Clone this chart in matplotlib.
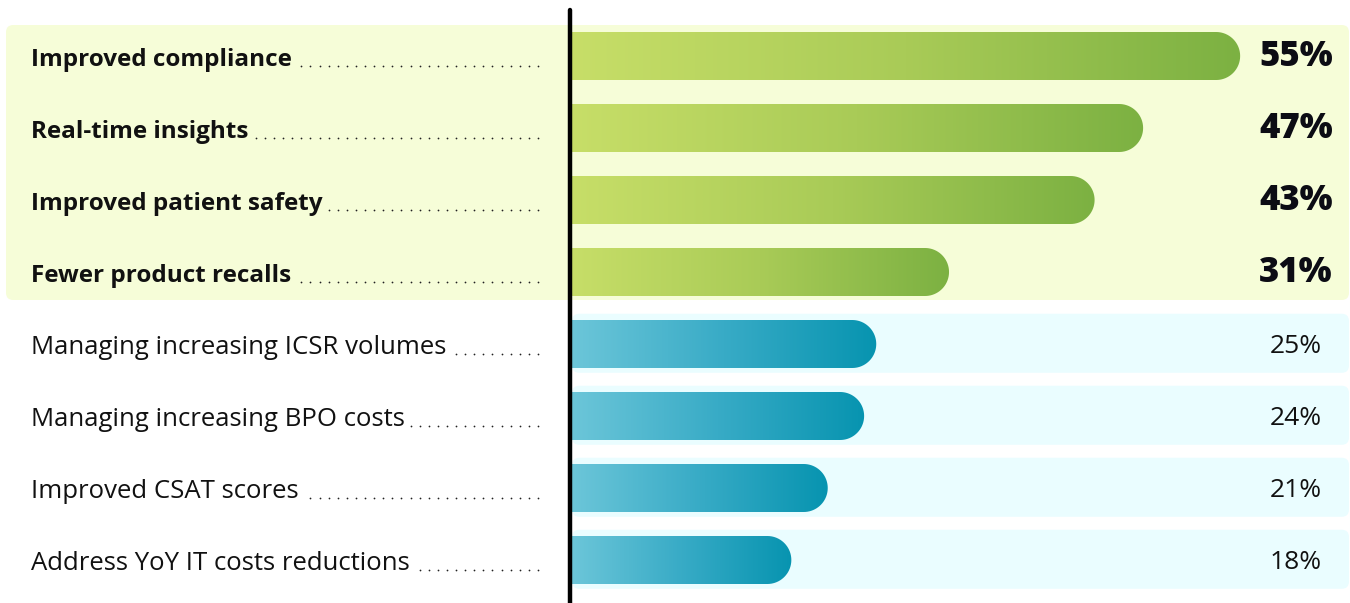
import numpy as np
import matplotlib
matplotlib.use("Agg")
import matplotlib.pyplot as plt
from matplotlib.patches import FancyBboxPatch, PathPatch
from matplotlib.path import Path
from matplotlib.colors import LinearSegmentedColormap

# data
labels = ["Improved compliance", "Real-time insights", "Improved patient safety",
          "Fewer product recalls", "Managing increasing ICSR volumes",
          "Managing increasing BPO costs", "Improved CSAT scores",
          "Address YoY IT costs reductions"]
values = [55, 47, 43, 31, 25, 24, 21, 18]
highlight = [True, True, True, True, False, False, False, False]

W, H = 1350, 603
x0_px = 573          # pixel where 0% sits
px_per_pct = 12.13
row0_px = 56
row_px = 72

fig = plt.figure(figsize=(W / 100, H / 100), dpi=100)
ax = fig.add_axes([0, 0, 1, 1])
ax.set_xlim(-x0_px / px_per_pct, (W - x0_px) / px_per_pct)
ax.set_ylim((H - row0_px) / row_px, -row0_px / row_px)
ax.axis("off")

def px2x(p):
    return (p - x0_px) / px_per_pct

def px2y(p):
    return (p - row0_px) / row_px

asp = px_per_pct / row_px  # to make rounded corners circular on screen

green = LinearSegmentedColormap.from_list("g", ["#c7de68", "#a9cb57", "#7cb142"])
blue = LinearSegmentedColormap.from_list("b", ["#6cc6d9", "#38abc6", "#0794b0"])
grad = np.linspace(0, 1, 256).reshape(1, -1)

# yellow panel behind the highlighted rows
ax.add_patch(FancyBboxPatch((px2x(6), px2y(25)), px2x(1349) - px2x(6), px2y(300) - px2y(25),
                            boxstyle="round,pad=0,rounding_size=0.6", mutation_aspect=asp,
                            fc="#f6fdd8", ec="none", zorder=0))

font = "Open Sans"
bar_h = 48 / row_px
ry = bar_h / 2
rx = ry * row_px / px_per_pct

fig.canvas.draw()
renderer = fig.canvas.get_renderer()

for i, (lab, v, hl) in enumerate(zip(labels, values, highlight)):
    if not hl:
        ax.add_patch(FancyBboxPatch((px2x(572), i - 0.42), px2x(1349) - px2x(572), 0.82,
                                    boxstyle="round,pad=0,rounding_size=0.6", mutation_aspect=asp,
                                    fc="#eafdff", ec="none", zorder=0))
    # bar with a rounded right end
    t = np.linspace(-np.pi / 2, np.pi / 2, 40)
    xe = v - rx
    x_start = px2x(571)
    verts = [(x_start, i + ry), (x_start, i - ry)]
    verts += [(xe + rx * np.cos(a), i + ry * np.sin(a)) for a in t]
    verts += [(x_start, i + ry)]
    patch = PathPatch(Path(verts), fc="none", ec="none")
    ax.add_patch(patch)
    im = ax.imshow(grad, cmap=green if hl else blue, extent=[x_start, v, i + ry, i - ry],
                   aspect="auto", zorder=2, interpolation="bicubic")
    im.set_clip_path(patch)

    # category label with dotted leader
    txt = ax.text(px2x(31), i + 0.05, lab, ha="left", va="center",
                  fontsize=17.5 if hl else 18.5,
                  family=font, fontweight="bold" if hl else "normal", color="#111111", zorder=3)
    bb = txt.get_window_extent(renderer)
    start = bb.x1 + 5
    n = int((538 - start) // 9.1) + 1
    dots = np.linspace(538 - (n - 1) * 9.1, 538, n)
    base_y = i + 0.14
    ax.scatter([px2x(d) for d in dots], [base_y] * len(dots), s=1.6, c="#222222",
               marker="o", linewidths=0, zorder=3)

    # value label
    if hl:
        ax.text(px2x(1296), i + 0.02, f"{v}%", ha="center", va="center", fontsize=25,
                family=font, fontweight="heavy", color="#0c0c14", zorder=3)
    else:
        ax.text(px2x(1296), i + 0.04, f"{v}%", ha="center", va="center", fontsize=19,
                family=font, fontweight="normal", color="#111111", zorder=3)

# vertical axis line
ax.plot([px2x(570), px2x(570)], [px2y(10), px2y(610)], color="black", lw=3.2,
        solid_capstyle="round", zorder=4)

fig.savefig("out.png", dpi=100)
